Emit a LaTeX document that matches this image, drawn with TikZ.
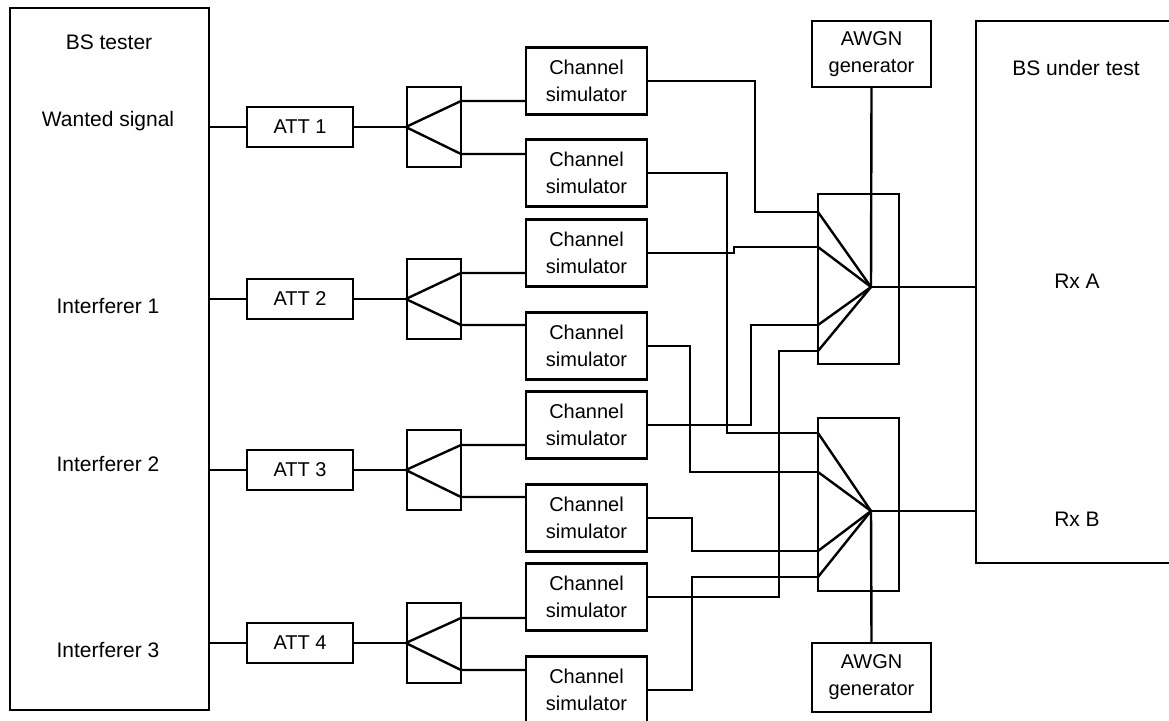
\documentclass[tikz,border=0pt]{standalone}
\usepackage{fontspec}
\setmainfont{Liberation Sans}
\begin{document}
\begin{tikzpicture}[x=1pt,y=-1pt,line width=2.4pt,
  box/.style={draw,rectangle,inner sep=0pt,align=center,font=\fontsize{20}{27}\selectfont},
  lbl/.style={inner sep=0pt,font=\fontsize{21}{25}\selectfont},
  chsim/.style={box,minimum width=121pt,minimum height=67pt},
  attbox/.style={box,minimum width=106pt,minimum height=40pt},
  splitbox/.style={box,minimum width=54pt,minimum height=80pt},
  combbox/.style={box,minimum width=81pt},
  awgnbox/.style={box,minimum width=119pt}]
\clip (0,0) rectangle (1169,720);
\fill[white] (0,0) rectangle (1169,720);

% BS tester
\node[box,minimum width=199pt,minimum height=702pt] (tester) at (109.5,359) {};
\node[lbl] (tname) at (109,42) {BS tester};
\node[lbl] (lw) at (108,121) {Wanted signal};
\node[lbl] (li1) at (108,306) {Interferer 1};
\node[lbl] (li2) at (108,464) {Interferer 2};
\node[lbl] (li3) at (108,650) {Interferer 3};

% BS under test
\node[box,minimum width=224pt,minimum height=542pt] (dut) at (1088,292) {};
\node[lbl] (dname) at (1076,68) {BS under test};
\node[lbl] (rxa) at (1077,281) {Rx A};
\node[lbl] (rxb) at (1077,519) {Rx B};

% branches
\foreach \i/\y/\cu/\cl/\ya/\yb in {1/127/81/173/101/154, 2/299/253/346/273/325, 3/470/425/518/445/497, 4/643/597/690/618/670}{
  \node[attbox] (att\i) at (300,\y) {ATT \i};
  \node[splitbox] (sp\i) at (434,\y) {};
  \node[chsim] (csu\i) at (586.5,\cu) {Channel\\simulator};
  \node[chsim] (csl\i) at (586.5,\cl) {Channel\\simulator};
  \coordinate (oa\i) at (461,\ya);
  \coordinate (ob\i) at (461,\yb);
  \draw (tester.east |- att\i) -- (att\i.west);
  \draw (att\i.east) -- (sp\i.west);
  \draw (sp\i.west) -- (oa\i) -- (csu\i.west |- oa\i);
  \draw (sp\i.west) -- (ob\i) -- (csl\i.west |- ob\i);
}

% combiners
\node[combbox,minimum height=170pt] (ca) at (858.5,279) {};
\node[combbox,minimum height=173pt] (cb) at (858.5,504.5) {};
\coordinate (pa) at (871,287);
\coordinate (pb) at (871,511);
\coordinate (ai1) at (818,212);
\coordinate (ai2) at (818,247);
\coordinate (ai3) at (818,325);
\coordinate (ai4) at (818,351);
\coordinate (bi1) at (818,433);
\coordinate (bi2) at (818,472);
\coordinate (bi3) at (818,551);
\coordinate (bi4) at (818,577);
\foreach \c in {ai1,ai2,ai3,ai4}{\draw (\c) -- (pa);}
\foreach \c in {bi1,bi2,bi3,bi4}{\draw (\c) -- (pb);}

% AWGN generators
\node[awgnbox,minimum height=66pt] (awa) at (871.5,54) {AWGN\\generator};
\node[awgnbox,minimum height=69pt] (awb) at (871.5,677.5) {AWGN\\generator};
\draw (awa.south) -- (pa);
\draw (pb) -- (awb.north);
\draw (pa) -- (dut.west |- pa);
\draw (pb) -- (dut.west |- pb);

% channel simulator outputs to combiners
\draw (csu1.east) -- ++(107,0) |- (ai1);
\draw (csl1.east) -- ++(79,0) |- (bi1);
\draw (csu2.east) -- ++(86,0) -- ++(0,-6) -- (ai2);
\draw (csl2.east) -- ++(42,0) |- (bi2);
\draw (csu3.east) -- ++(103,0) |- (ai3);
\draw (csl3.east) -- ++(44,0) |- (bi3);
\draw (csu4.east) -- ++(131,0) |- (ai4);
\draw (csl4.east) -- ++(44,0) |- (bi4);
\end{tikzpicture}
\end{document}
